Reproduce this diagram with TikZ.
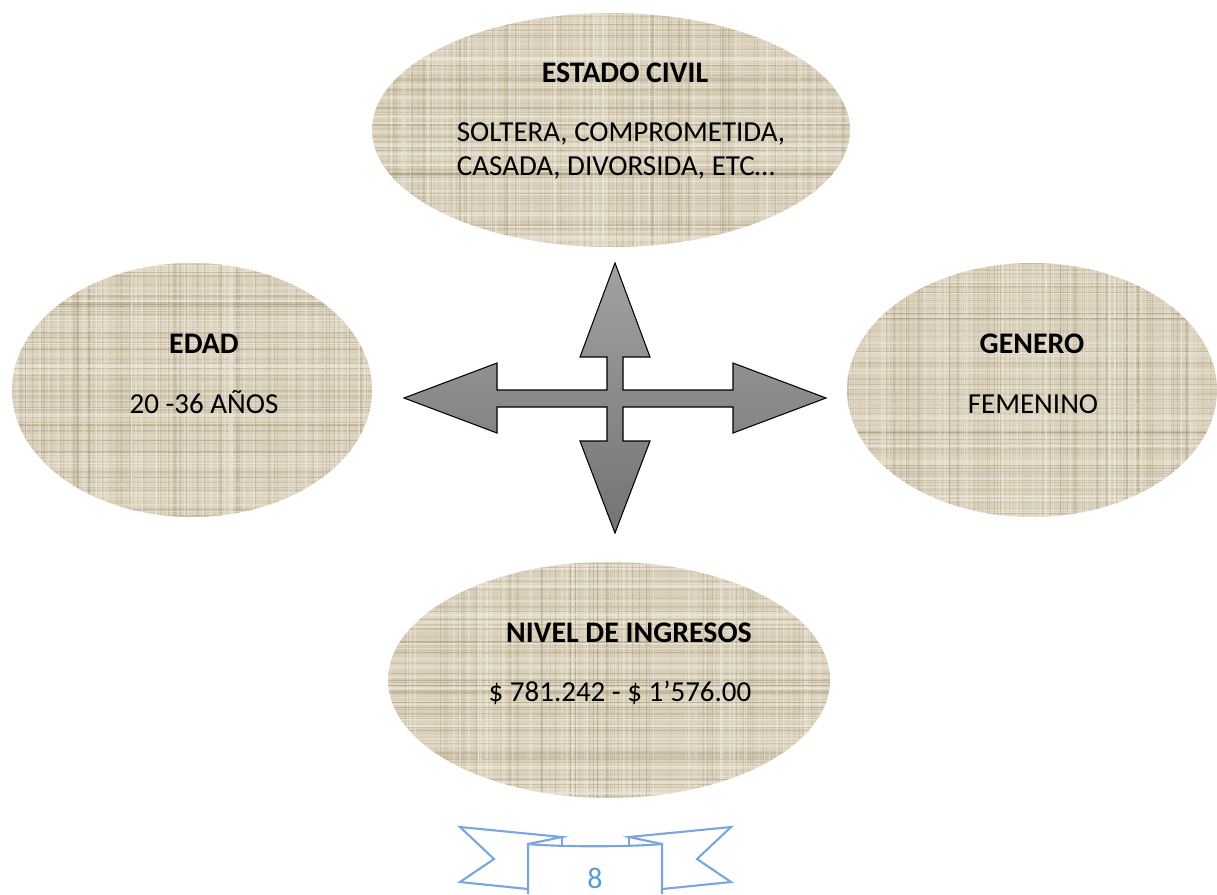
\documentclass[tikz,border=0pt]{standalone}
\usepackage{fontspec}
\setmainfont{Carlito}
\usepackage{tikz}
\usetikzlibrary{calc,shapes.geometric}
\definecolor{LinenBase}{HTML}{DAD0BB}
\definecolor{LinenDark}{HTML}{A39679}
\definecolor{LinenLight}{HTML}{F0EADD}
\definecolor{ArrowTop}{HTML}{A2A2A2}
\definecolor{ArrowBottom}{HTML}{737373}
\definecolor{RibbonLine}{HTML}{7AA5E0}
\definecolor{RibbonText}{HTML}{5B9BD5}
% woven texture for the ellipses
\newcommand{\linenweave}{%
  \foreach \k in {1,...,90}{%
    \pgfmathsetmacro{\pos}{rnd}\pgfmathsetmacro{\lw}{0.2+0.6*rnd}\pgfmathsetmacro{\op}{0.1+0.3*rnd}%
    \draw[LinenDark,line width=\lw pt,opacity=\op]
      ($(path picture bounding box.north west)!\pos!(path picture bounding box.north east)$) --
      ($(path picture bounding box.south west)!\pos!(path picture bounding box.south east)$);
    \pgfmathsetmacro{\pos}{rnd}\pgfmathsetmacro{\lw}{0.2+0.6*rnd}\pgfmathsetmacro{\op}{0.1+0.3*rnd}%
    \draw[LinenDark,line width=\lw pt,opacity=\op]
      ($(path picture bounding box.north west)!\pos!(path picture bounding box.south west)$) --
      ($(path picture bounding box.north east)!\pos!(path picture bounding box.south east)$);
    \pgfmathsetmacro{\pos}{rnd}\pgfmathsetmacro{\lw}{0.3+0.8*rnd}%
    \draw[LinenLight,line width=\lw pt,opacity=0.45]
      ($(path picture bounding box.north west)!\pos!(path picture bounding box.north east)$) --
      ($(path picture bounding box.south west)!\pos!(path picture bounding box.south east)$);
    \pgfmathsetmacro{\pos}{rnd}\pgfmathsetmacro{\lw}{0.3+0.8*rnd}%
    \draw[LinenLight,line width=\lw pt,opacity=0.45]
      ($(path picture bounding box.north west)!\pos!(path picture bounding box.south west)$) --
      ($(path picture bounding box.north east)!\pos!(path picture bounding box.south east)$);
  }}

\begin{document}
\begin{tikzpicture}[x=0.02cm,y=-0.02cm,
  linen/.style={ellipse,fill=LinenBase,inner sep=0pt,outer sep=0pt,path picture={\linenweave}},
  title/.style={font=\fontsize{17}{20}\selectfont\bfseries,anchor=base},
  body/.style={font=\fontsize{16.5}{20}\selectfont,anchor=base},
  cross/.style={draw=black,line width=0.6pt,line join=miter,top color=ArrowTop,bottom color=ArrowBottom},
  ribbon/.style={draw=RibbonLine,line width=1.2pt,line join=miter}
]
\pgfmathsetseed{4217}
\useasboundingbox (0,0) rectangle (1217,894);

% the four ellipses
\node[linen,minimum width=9.56cm,minimum height=4.68cm] (civil) at (611,130) {};
\node[linen,minimum width=7.2cm,minimum height=5.08cm] (edad) at (192,390) {};
\node[linen,minimum width=7.4cm,minimum height=5.08cm] (genero) at (1032,390) {};
\node[linen,minimum width=8.84cm,minimum height=4.72cm] (ingresos) at (609,680) {};

\node[title] (civilT) at (625,82) {ESTADO CIVIL};
\node[font=\fontsize{16.5}{19.8}\selectfont,align=left] (civilB) at (621,151)
  {SOLTERA, COMPROMETIDA,\\CASADA, DIVORSIDA, ETC…};
\node[title] (edadT) at (204,353) {EDAD};
\node[body] (edadB) at (204,413) {20 -36 AÑOS};
\node[title] (generoT) at (1032,353) {GENERO};
\node[body] (generoB) at (1033,413) {FEMENINO};
\node[title] (ingresosT) at (629,642) {NIVEL DE INGRESOS};
\node[body] (ingresosB) at (620,701) {\$ 781.242 - \$ 1’576.00};

% four-way arrow in the middle
\coordinate (hub) at (615,398);
\path[cross] (615,263) -- (650,357) -- (623,357) -- (623,390) -- (733,390) -- (733,363)
  -- (826,398) -- (733,433) -- (733,407) -- (623,407) -- (623,441) -- (650,441)
  -- (615,533) -- (580,441) -- (607,441) -- (607,407) -- (497,407) -- (497,433)
  -- (404,398) -- (497,363) -- (497,390) -- (607,390) -- (607,357) -- (580,357) -- cycle;

% page ribbon
\draw[ribbon] (528,894) -- (528,844) .. controls (560,847) and (630,847) .. (662,844) -- (662,894);
\draw[ribbon] (528,889) -- (460,882) -- (494,859) -- (460,827) -- (562,837) -- (528,844);
\draw[ribbon] (662,889) -- (731,882) -- (697,859) -- (731,827) -- (629,837) -- (662,844);
\draw[ribbon] (562,837) -- (562,845);
\draw[ribbon] (629,837) -- (629,845);
\node[font=\fontsize{17}{20}\selectfont,text=RibbonText] (page) at (595,878) {8};
\end{tikzpicture}
\end{document}
